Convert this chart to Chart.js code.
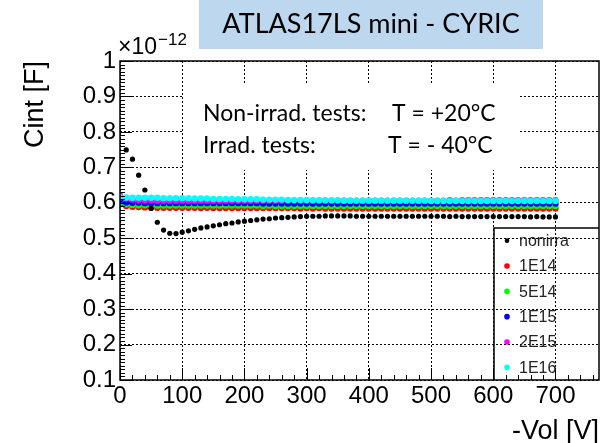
<!DOCTYPE html>
<html>
<head>
<meta charset="utf-8">
<script src="https://cdn.jsdelivr.net/npm/chart.js@4.4.1/dist/chart.umd.min.js"></script>
<style>
  html, body { margin: 0; padding: 0; background: #fff; }
</style>
</head>
<body>
<canvas id="Chart" width="609" height="443"></canvas>
<script>
/* bias voltage, -V [V] */
const voltages = [
  0, 10, 20, 30, 40, 50, 60, 70, 80, 90,
  100, 110, 120, 130, 140, 150, 160, 170, 180, 190,
  200, 210, 220, 230, 240, 250, 260, 270, 280, 290,
  300, 310, 320, 330, 340, 350, 360, 370, 380, 390,
  400, 410, 420, 430, 440, 450, 460, 470, 480, 490,
  500, 510, 520, 530, 540, 550, 560, 570, 580, 590,
  600, 610, 620, 630, 640, 650, 660, 670, 680, 690,
  700
]

/* Cint in units of 1e-12 F */
const nonirra = [
  null, 0.749, 0.723, 0.678, 0.636, 0.584, 0.545, 0.523, 0.514, 0.513,
  0.517, 0.521, 0.525, 0.529, 0.532, 0.535, 0.538, 0.541, 0.543, 0.546,
  0.548, 0.550, 0.552, 0.554, 0.555, 0.557, 0.558, 0.559, 0.560, 0.561,
  0.562, 0.562, 0.562, 0.563, 0.563, 0.563, 0.563, 0.563, 0.562, 0.562,
  0.562, 0.562, 0.562, 0.562, 0.562, 0.562, 0.562, 0.562, 0.562, 0.562,
  0.562, 0.562, 0.562, 0.561, 0.562, 0.561, 0.561, 0.561, 0.561, 0.561,
  0.561, 0.561, 0.561, 0.561, 0.561, 0.561, 0.560, 0.561, 0.560, 0.560,
  0.560
]
const f1e14 = [
  0.596, 0.591, 0.589, 0.588, 0.587, 0.587, 0.586, 0.586, 0.586, 0.586,
  0.586, 0.586, 0.586, 0.585, 0.586, 0.585, 0.585, 0.585, 0.585, 0.585,
  0.585, 0.585, 0.585, 0.585, 0.585, 0.585, 0.585, 0.585, 0.585, 0.584,
  0.585, 0.584, 0.585, 0.584, 0.584, 0.584, 0.584, 0.584, 0.584, 0.584,
  0.584, 0.584, 0.584, 0.584, 0.584, 0.584, 0.584, 0.584, 0.584, 0.584,
  0.584, 0.584, 0.584, 0.584, 0.584, 0.584, 0.584, 0.584, 0.584, 0.584,
  0.584, 0.584, 0.584, 0.584, 0.584, 0.584, 0.584, 0.584, 0.584, 0.584,
  0.584
]
const f5e14 = [
  0.601, 0.596, 0.594, 0.593, 0.593, 0.592, 0.592, 0.592, 0.592, 0.592,
  0.592, 0.592, 0.592, 0.592, 0.592, 0.592, 0.592, 0.592, 0.592, 0.592,
  0.592, 0.592, 0.592, 0.591, 0.592, 0.591, 0.591, 0.591, 0.591, 0.591,
  0.591, 0.591, 0.591, 0.591, 0.591, 0.591, 0.591, 0.591, 0.591, 0.591,
  0.591, 0.591, 0.591, 0.591, 0.591, 0.591, 0.591, 0.591, 0.591, 0.591,
  0.591, 0.591, 0.591, 0.591, 0.591, 0.591, 0.591, 0.591, 0.591, 0.591,
  0.591, 0.591, 0.591, 0.591, 0.591, 0.591, 0.591, 0.591, 0.591, 0.591,
  0.591
]
const f1e15 = [
  0.606, 0.601, 0.600, 0.600, 0.599, 0.599, 0.599, 0.599, 0.599, 0.599,
  0.599, 0.599, 0.599, 0.599, 0.599, 0.599, 0.599, 0.599, 0.599, 0.599,
  0.599, 0.599, 0.599, 0.598, 0.598, 0.598, 0.598, 0.598, 0.598, 0.598,
  0.598, 0.598, 0.598, 0.598, 0.598, 0.598, 0.598, 0.598, 0.598, 0.598,
  0.598, 0.598, 0.598, 0.598, 0.598, 0.598, 0.598, 0.598, 0.598, 0.598,
  0.598, 0.598, 0.598, 0.598, 0.598, 0.598, 0.598, 0.598, 0.598, 0.598,
  0.598, 0.598, 0.598, 0.598, 0.598, 0.598, 0.598, 0.598, 0.598, 0.598,
  0.598
]
const f2e15 = [
  0.621, 0.612, 0.609, 0.608, 0.607, 0.607, 0.606, 0.606, 0.606, 0.606,
  0.606, 0.606, 0.606, 0.606, 0.606, 0.606, 0.606, 0.606, 0.606, 0.606,
  0.606, 0.606, 0.606, 0.606, 0.606, 0.606, 0.606, 0.606, 0.606, 0.606,
  0.606, 0.606, 0.606, 0.606, 0.606, 0.606, 0.606, 0.606, 0.606, 0.606,
  0.606, 0.606, 0.606, 0.606, 0.606, 0.606, 0.606, 0.606, 0.606, 0.606,
  0.606, 0.606, 0.606, 0.607, 0.606, 0.607, 0.607, 0.607, 0.607, 0.607,
  0.607, 0.607, 0.607, 0.607, 0.607, 0.607, 0.607, 0.607, 0.607, 0.607,
  0.607
]
const f1e16 = [
  0.616, 0.615, 0.614, 0.614, 0.614, 0.614, 0.614, 0.613, 0.613, 0.613,
  0.613, 0.613, 0.612, 0.612, 0.612, 0.611, 0.611, 0.611, 0.611, 0.610,
  0.610, 0.610, 0.610, 0.609, 0.609, 0.609, 0.609, 0.608, 0.608, 0.608,
  0.608, 0.607, 0.607, 0.607, 0.607, 0.607, 0.606, 0.606, 0.606, 0.606,
  0.606, 0.606, 0.606, 0.606, 0.606, 0.606, 0.606, 0.606, 0.606, 0.606,
  0.605, 0.605, 0.605, 0.605, 0.605, 0.605, 0.605, 0.605, 0.605, 0.605,
  0.605, 0.605, 0.605, 0.605, 0.605, 0.605, 0.605, 0.605, 0.605, 0.605,
  0.605
]

const seriesNames = ['nonirra', '1E14', '5E14', '1E15', '2E15', '1E16']
const seriesValues = [nonirra, f1e14, f5e14, f1e15, f2e15, f1e16]
const seriesColors = ['#000000', '#ff0000', '#00ff00', '#0000ff', '#ff00ff', '#00ffff']

const xTicks = [0, 100, 200, 300, 400, 500, 600, 700]

const tickFont = { family: 'Liberation Sans, Arial, sans-serif', size: 24 }
const titleFont = { family: 'Liberation Sans, Arial, sans-serif', size: 27 }

/* ROOT-like frame, inner ticks, text box and legend */
const rootStyle = {
	id: 'rootStyle',
	beforeDatasetsDraw(chart) {
		const ctx = chart.ctx
		ctx.save()
		// white text pad hides the grid behind the labels
		ctx.fillStyle = '#ffffff'
		ctx.fillRect(183, 85, 337, 85)
		ctx.restore()
	},
	afterDraw(chart) {
		const ctx = chart.ctx
		const { left, right, top, bottom } = chart.chartArea
		const xs = chart.scales.x
		const ys = chart.scales.y
		ctx.save()
		ctx.strokeStyle = '#000'
		ctx.lineWidth = 1.5
		ctx.strokeRect(left, top, right - left, bottom - top)

		ctx.lineWidth = 1
		ctx.beginPath()
		for (let v = 0; v <= 760; v += 20) {
			const px = Math.round(xs.getPixelForValue(v)) + 0.5
			const len = v % 100 === 0 ? 12 : 5
			ctx.moveTo(px, bottom)
			ctx.lineTo(px, bottom - len)
		}
		for (let k = 10; k <= 100; k++) {
			const py = Math.round(ys.getPixelForValue(k / 100)) + 0.5
			const len = k % 10 === 0 ? 12 : 5
			ctx.moveTo(left, py)
			ctx.lineTo(left + len, py)
		}
		ctx.stroke()

		// exponent
		ctx.fillStyle = '#000'
		ctx.textBaseline = 'alphabetic'
		ctx.textAlign = 'left'
		ctx.font = '23px "Liberation Sans", Arial, sans-serif'
		ctx.fillText('\u00d710', 118, 54)
		const w = ctx.measureText('\u00d710').width
		ctx.font = '17px "Liberation Sans", Arial, sans-serif'
		ctx.fillText('\u221212', 118 + w + 1, 45)

		// title box
		ctx.fillStyle = '#bdd7ee'
		ctx.fillRect(199, 0, 344, 49)
		ctx.fillStyle = '#000'
		ctx.textAlign = 'center'
		ctx.textBaseline = 'middle'
		ctx.font = '27px Lato, "Open Sans", sans-serif'
		ctx.fillText('ATLAS17LS mini - CYRIC', 371, 24)

		// conditions text
		ctx.textAlign = 'left'
		ctx.font = '23px Lato, "Open Sans", sans-serif'
		ctx.fillText('Non-irrad. tests:', 203, 114)
		ctx.fillText('T = +20\u00b0C', 392, 114)
		ctx.fillText('Irrad. tests:', 203, 146)
		ctx.fillText('T = - 40\u00b0C', 388, 146)

		// legend
		const lx = 494
		const ly = 228
		ctx.lineWidth = 1.5
		ctx.beginPath()
		ctx.moveTo(lx, bottom)
		ctx.lineTo(lx, ly)
		ctx.lineTo(right, ly)
		ctx.stroke()
		const rowH = (bottom - ly) / seriesNames.length
		ctx.font = '16px "Liberation Sans", Arial, sans-serif'
		seriesNames.forEach((name, i) => {
			const cy = ly + rowH * (i + 0.5)
			ctx.fillStyle = seriesColors[i]
			ctx.beginPath()
			ctx.arc(507, cy, i === 0 ? 2.3 : 2.8, 0, Math.PI * 2)
			ctx.fill()
			ctx.fillStyle = '#222'
			ctx.fillText(name, 519, cy + 1)
		})
		ctx.restore()
	}
}

const datasets = seriesNames.map((name, i) => ({
	label: name,
	data: voltages.map((v, j) => ({ x: v, y: seriesValues[i][j] })),
	backgroundColor: seriesColors[i],
	borderColor: seriesColors[i],
	pointRadius: i === 0 ? 2.6 : 3.2,
	pointBorderWidth: 0,
	showLine: false,
	order: i === 0 ? 0 : 7 - i
}))

new Chart('Chart', {
	type: 'scatter',
	data: { datasets },
	options: {
		responsive: false,
		animation: false,
		devicePixelRatio: 1,
		layout: { padding: { top: 61, right: 10, left: 0, bottom: 0 } },
		plugins: {
			legend: { display: false },
			tooltip: { enabled: false }
		},
		scales: {
			x: {
				type: 'linear',
				min: 0,
				max: 770,
				afterFit: (s) => { s.height = 63 },
				afterBuildTicks: (s) => { s.ticks = xTicks.map((v) => ({ value: v })) },
				ticks: { color: '#000', font: tickFont, padding: 2, maxRotation: 0, autoSkip: false },
				grid: { color: '#000', lineWidth: 1, drawTicks: false },
				border: { display: false, dash: [2, 2] },
				title: {
					display: true,
					text: '-Vol [V]',
					align: 'end',
					color: '#000',
					font: { ...titleFont, lineHeight: 0.85 },
					padding: 0
				}
			},
			y: {
				type: 'linear',
				min: 0.1,
				max: 1.0,
				afterFit: (s) => { s.width = 120 },
				ticks: {
					stepSize: 0.1,
					color: '#000',
					font: tickFont,
					padding: 4,
					callback: (v) => String(+v.toFixed(1))
				},
				grid: { color: '#000', lineWidth: 1, drawTicks: false },
				border: { display: false, dash: [2, 2] },
				title: {
					display: true,
					text: 'Cint [F]',
					align: 'end',
					color: '#000',
					font: titleFont,
					padding: { top: 19, bottom: 0 }
				}
			}
		}
	},
	plugins: [rootStyle]
})
</script>
</body>
</html>
